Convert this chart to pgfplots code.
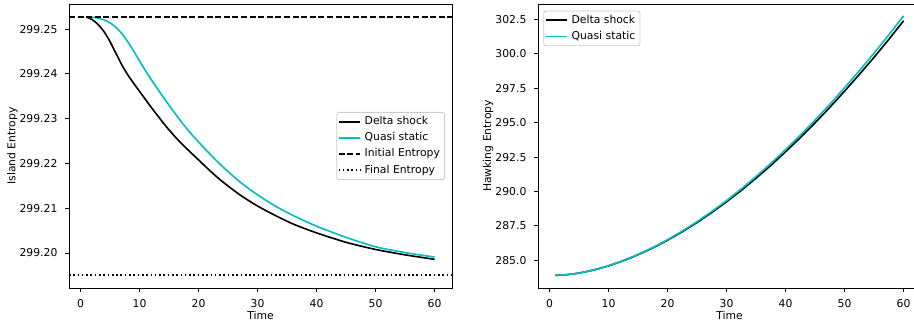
\documentclass[border=0pt]{standalone}
\usepackage{fontspec}
\setmainfont{DejaVu Sans}
\usepackage{pgfplots}
\pgfplotsset{compat=1.18}
\definecolor{mplcyan}{rgb}{0,0.75,0.75}
\definecolor{legedge}{gray}{0.8}

% keep the full island-entropy values in the file; strip the common 299 offset textually
% (TeX arithmetic is too coarse for 299.19..299.26)
\makeatletter
\def\islandtrafo#1{\edef\isl@tmp{#1}\expandafter\isl@check\isl@tmp Y\@nil}
\def\isl@check#1Y#2\@nil{\ifx\relax#2\relax
    \expandafter\islandtrafo@\isl@tmp..\@nil
  \else
    \expandafter\isl@float\isl@tmp\@nil
  \fi}
\def\islandtrafo@#1.#2.#3\@nil{\edef\pgfmathresult{0.#20}}
\def\isl@float#1Y#2.#3e#4]#5\@nil{\edef\pgfmathresult{0.\isl@dropTwo#3\@nil 0}}
\def\isl@dropTwo#1#2#3\@nil{#3}
\makeatother

\newcommand{\mplfont}{\fontsize{10.8}{13}\selectfont}

\pgfplotsset{
  mpl/.style={
    scale only axis, width=383pt, height=284pt,
    xmin=-1.95, xmax=62.95,
    xtick={0,10,20,30,40,50,60},
    axis line style={black, line width=0.86pt},
    tick style={black, line width=0.86pt},
    tick align=outside, major tick length=3.8pt,
    xtick pos=bottom, ytick pos=left,
    tick label style={font=\mplfont, text=black},
    label style={font=\mplfont},
    /pgf/number format/assume math mode=true,
    xticklabel style={inner sep=0pt, yshift=-7.6pt},
    yticklabel style={inner sep=0pt, xshift=-7.6pt},
    xlabel style={inner sep=0pt, outer ysep=4pt},
    ylabel style={inner sep=0pt, outer ysep=2pt},
    legend cell align=left,
    legend style={draw=legedge, line width=0.86pt, rounded corners=2.5pt, fill=white,
      font=\mplfont, inner xsep=1pt, inner ysep=1.2pt,
      nodes={inner xsep=3.7pt, inner ysep=2.75pt, text height=8.2pt, text depth=2.5pt}},
    legend image code/.code={\draw[##1] (0pt,0pt) -- (21.6pt,0pt);},
  }
}

\pgfplotstableread{
t    s
1    299.2527
2    299.2521
3    299.2510
4    299.2494
5    299.2472
6    299.2446
7    299.2420
8    299.2398
9    299.2379
10   299.2361
11   299.2343
12   299.2325
13   299.2308
14   299.2291
15   299.2275
16   299.2260
17   299.2246
18   299.2233
20   299.2208
22   299.2183
24   299.2160
27   299.2130
30   299.2105
33   299.2084
36   299.2065
40   299.2045
45   299.2024
50   299.2008
55   299.1996
60   299.1986
}\islanddelta

\pgfplotstableread{
t    s
1    299.2527
2    299.25265
3    299.25245
4    299.25205
5    299.2514
6    299.2504
7    299.2490
8    299.2472
9    299.2451
10   299.2429
11   299.24075
12   299.2387
13   299.23675
14   299.23485
15   299.2330
16   299.2312
17   299.22945
18   299.2278
19   299.22625
20   299.2248
22   299.2220
24   299.2194
27   299.2159
30   299.2130
33   299.2105
36   299.2084
40   299.2060
45   299.2035
50   299.2014
55   299.2001
60   299.1991
}\islandquasi

\pgfplotstableread{
t      s
-1.95  299.2527
62.95  299.2527
}\initialS

\pgfplotstableread{
t      s
-1.95  299.1951
62.95  299.1951
}\finalS

\pgfplotstableread{
t     s
1     283.910
2     283.925
3     283.960
4     284.011
5     284.077
6     284.157
7     284.250
8     284.355
10    284.600
12    284.890
14    285.223
16    285.597
18    286.009
20    286.460
22.5  287.077
25    287.751
27.5  288.474
30    289.252
32.5  290.083
35    290.969
37.5  291.895
40    292.886
42.5  293.910
45    294.990
47.5  296.110
50    297.292
52.5  298.500
55    299.750
57.5  301.050
60    302.400
}\hawkdelta

\pgfplotstableread{
t     s
1     283.910
2     283.925
3     283.960
4     284.012
5     284.079
6     284.160
7     284.254
8     284.360
10    284.608
12    284.902
14    285.240
16    285.620
18    286.039
20    286.497
22.5  287.125
25    287.811
27.5  288.547
30    289.339
32.5  290.186
35    291.089
37.5  292.033
40    293.043
42.5  294.088
45    295.190
47.5  296.334
50    297.540
52.5  298.774
55    300.052
57.5  301.380
60    302.760
}\hawkquasi

\begin{document}
\begin{tikzpicture}
\useasboundingbox (0pt,0pt) rectangle (914pt,321pt);
\clip (0pt,0pt) rectangle (914pt,321pt);

\begin{axis}[mpl,
  at={(69pt,33pt)}, anchor=south west,
  y coord trafo/.code={\islandtrafo{#1}},
  ymin=299.1922, ymax=299.2556,
  ytick={299.20,299.21,299.22,299.23,299.24,299.25},
  yticklabels={299.20,299.21,299.22,299.23,299.24,299.25},
  xlabel={Time}, ylabel={Island Entropy},
  legend style={at={(0.982,0.5)}, anchor=east},
]
\addplot[black, line width=1.62pt, smooth, tension=0.4] table[x=t, y=s] {\islanddelta};
\addlegendentry{Delta shock}
\addplot[mplcyan, line width=1.62pt, smooth, tension=0.4] table[x=t, y=s] {\islandquasi};
\addlegendentry{Quasi static}
\addplot[black, line width=1.62pt, dash pattern=on 6pt off 2.6pt] table[x=t, y=s] {\initialS};
\addlegendentry{Initial Entropy}
\addplot[black, line width=1.62pt, dash pattern=on 1.62pt off 2.67pt] table[x=t, y=s] {\finalS};
\addlegendentry{Final Entropy}
\end{axis}

\begin{axis}[mpl,
  at={(538pt,33pt)}, anchor=south west,
  ymin=282.99, ymax=303.62,
  ytick={285,287.5,290,292.5,295,297.5,300,302.5},
  yticklabel style={/pgf/number format/.cd, fixed, fixed zerofill, precision=1},
  xlabel={Time}, ylabel={Hawking Entropy},
  legend style={at={(0.0138,0.977)}, anchor=north west},
]
\addplot[black, line width=1.62pt] table[x=t, y=s] {\hawkdelta};
\addlegendentry{Delta shock}
\addplot[mplcyan, line width=1.62pt] table[x=t, y=s] {\hawkquasi};
\addlegendentry{Quasi static}
\end{axis}
\end{tikzpicture}
\end{document}
